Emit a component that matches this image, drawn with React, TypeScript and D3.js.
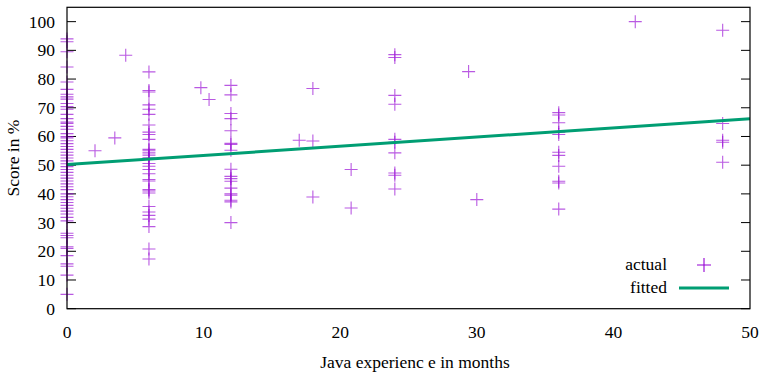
import * as d3 from 'd3'

// experience (months) -> scores
const scoresAt0 = [
  94, 93, 89.5, 84.2, 79, 76.4, 74.7, 73.8, 73, 71.5, 70.4, 69.5, 67.7, 66.2, 65,
  64.5, 63.5, 62.5, 61, 60, 59.5, 58.5, 57.5, 56.5, 55.5, 54.5, 53.5, 52.5, 51.5,
  50.5, 49.5, 48.5, 47.5, 46.5, 45.5, 44.5, 43.5, 42.5, 41.5, 40, 39, 38, 37, 36,
  35, 34, 33, 31.8, 30.6, 26.3, 25.5, 24.7, 21.6, 21, 18.5, 15.6, 14.8, 11.7, 5,
]
const scoresAt6 = [
  82.5, 76, 75.5, 71, 69.5, 67.7, 64, 61.5, 60.7, 59, 55.5, 55, 54.3, 53.5, 52.6,
  52, 50.6, 49.6, 48.5, 47, 45, 44.5, 41.5, 41, 40.3, 35.6, 33.7, 32.5, 31.2, 28.6,
  20.8, 17.3,
]
const scoresAt12 = [
  77.8, 74.5, 68, 66.2, 62, 57.6, 57.2, 55.2, 48.6, 46.1, 45.3, 44.4, 42, 40, 39.5,
  37.8, 37.2, 30,
]
const scoresAt24 = [88.5, 87.5, 74.3, 71.2, 59, 58, 54.3, 47.3, 46.5, 41.7]
const scoresAt36 = [68.3, 67.5, 64.8, 61.5, 60.7, 54.5, 53.4, 49.6, 44.4, 43.8, 34.7]
const scoresAt48 = [97, 64.5, 58.7, 58, 51]

// single points [months, score]
const looseMonths = [2.05, 3.5, 4.3, 9.8, 10.4, 17, 18, 18, 18, 20.8, 20.8, 29.4, 30, 41.6]
const looseScores = [55, 59.5, 88.3, 77, 72.9, 58.7, 58.4, 76.7, 38.9, 48.5, 35.1, 82.6, 38, 100]

// fitted line
const fitMonths = [0, 50]
const fitScores = [50.2, 66.2]

const xTicks = [0, 10, 20, 30, 40, 50]
const yTicks = [0, 10, 20, 30, 40, 50, 60, 70, 80, 90, 100]

const W = 761
const H = 376
const left = 67
const right = 750
const top = 7.3
const bottom = 308.7

const purple = '#9400d3'
const green = '#009e73'
const font = '"Liberation Serif", "DejaVu Serif", serif'

export default function App() {
  const x = d3.scaleLinear().domain([0, 50]).range([left, right])
  const y = d3.scaleLinear().domain([0, 105]).range([bottom, top])

  const points: [number, number][] = []
  const cols: [number, number[]][] = [
    [0, scoresAt0], [6, scoresAt6], [12, scoresAt12],
    [24, scoresAt24], [36, scoresAt36], [48, scoresAt48],
  ]
  cols.forEach(([m, arr]) => arr.forEach(s => points.push([m, s])))
  looseMonths.forEach((m, i) => points.push([m, looseScores[i]]))

  const line = d3.line<number>()
    .x(d => x(fitMonths[d]))
    .y(d => y(fitScores[d]))

  const cross = (cx: number, cy: number, r = 6.5) =>
    `M${cx - r},${cy}H${cx + r}M${cx},${cy - r}V${cy + r}`

  return (
    <svg width={W} height={H} style={{ position: 'absolute', left: 0, top: 0, background: '#fff' }}
      fontFamily={font} fontSize={17.5}>
      {yTicks.map(t => (
        <g key={t}>
          <line x1={left} x2={left + 9} y1={y(t)} y2={y(t)} stroke="#000" strokeWidth={1} />
          <line x1={right - 9} x2={right} y1={y(t)} y2={y(t)} stroke="#000" strokeWidth={1} />
          <text x={55} y={y(t)} textAnchor="end" dominantBaseline="central" fill="#000">{t}</text>
        </g>
      ))}
      {xTicks.map(t => (
        <text key={t} x={x(t)} y={338} textAnchor="middle" fill="#000">{t}</text>
      ))}

      {points.map(([m, s], i) => (
        <path key={i} d={cross(x(m), y(s))} stroke={purple} strokeWidth={1.1} strokeOpacity={0.65} fill="none" />
      ))}
      <path d={line([0, 1]) ?? ''} stroke={green} strokeWidth={3} fill="none" />

      <rect x={left} y={top} width={right - left} height={bottom - top} fill="none" stroke="#000" strokeWidth={1.2} />

      <text x={667} y={264} textAnchor="end" dominantBaseline="central" fill="#000">actual</text>
      <path d={cross(704, 265, 7)} stroke={purple} strokeWidth={1.1} fill="none" />
      <text x={667} y={287} textAnchor="end" dominantBaseline="central" fill="#000">fitted</text>
      <line x1={679} x2={729} y1={288} y2={288} stroke={green} strokeWidth={3} />

      <text transform={`translate(19,158) rotate(-90)`} textAnchor="middle" fill="#000">Score in %</text>
      <text x={415} y={368} textAnchor="middle" fill="#000">Java experienc e in months</text>
    </svg>
  )
}
